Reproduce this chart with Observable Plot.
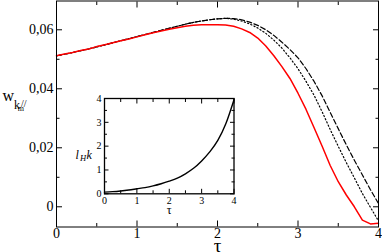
<!DOCTYPE html>
<html><head><meta charset="utf-8">
<script src="https://cdn.jsdelivr.net/npm/d3@7"></script>
<script src="https://cdn.jsdelivr.net/npm/@observablehq/plot@0.6"></script>
<style>
html,body{margin:0;padding:0;background:#fff;}
#wrap{position:relative;width:382px;height:252px;}
#wrap svg{position:absolute;left:0;top:0;}
</style>
</head><body><div id="wrap"></div>
<script>
// ---- data ----
const tau = [0,0.1,0.2,0.3,0.4,0.5,0.6,0.7,0.8,0.9,1.0,1.1,1.2,1.3,1.4,1.5,1.6,1.7,1.8,1.9,2.0,
             2.1,2.2,2.3,2.4,2.5,2.6,2.7,2.8,2.9,3.0,3.1,3.2,3.3,3.4,3.5,3.6,3.7,3.8,3.9,4.0];
const wRed = [0.0512,0.0518,0.0523,0.0530,0.0535,0.0543,0.0549,0.0556,0.0563,0.0569,0.0576,
              0.0583,0.0590,0.0596,0.0602,0.0607,0.0612,0.0615,0.0617,0.0617,0.0617,
              0.0616,0.0612,0.0603,0.0591,0.0572,0.0545,0.0512,0.0475,0.0435,0.0385,
              0.0330,0.0268,0.0205,0.0140,0.0085,0.0040,0.0000,-0.0045,-0.0058,-0.0056];
const wDashed = [0.0512,0.0517,0.0523,0.0529,0.0535,0.0542,0.0549,0.0556,0.0563,0.0570,0.0577,
                 0.0584,0.0591,0.0598,0.0605,0.0612,0.0619,0.0625,0.0630,0.0634,0.0637,
                 0.0639,0.0638,0.0634,0.0626,0.0615,0.0600,0.0581,0.0558,0.0533,0.0505,
                 0.0468,0.0425,0.0376,0.0320,0.0265,0.0210,0.0158,0.0108,0.0058,0.0011];
const wDotted = [0.0512,0.0517,0.0523,0.0529,0.0535,0.0542,0.0549,0.0556,0.0563,0.0570,0.0577,
                 0.0584,0.0591,0.0598,0.0605,0.0612,0.0619,0.0625,0.0630,0.0634,0.0637,
                 0.0639,0.0636,0.0630,0.0620,0.0606,0.0588,0.0565,0.0538,0.0505,0.0468,
                 0.0425,0.0378,0.0322,0.0262,0.0205,0.0150,0.0098,0.0045,-0.0002,-0.0048];
const xTicks = [0,1,2,3,4];
const xTickLabels = ["0","1","2","3","4"];
const xMinor = [0.5,1.5,2.5,3.5];
const yTicks = [0,0.02,0.04,0.06];
const yTickLabels = ["0","0,02","0,04","0,06"];
const yMinor = [0.01,0.03,0.05];

const insetTau = [0,0.25,0.5,0.75,1,1.25,1.5,1.75,2,2.25,2.5,2.75,3,3.25,3.5,3.75,4];
const insetLk  = [0.07,0.09,0.12,0.16,0.21,0.26,0.33,0.42,0.53,0.66,0.84,1.07,1.38,1.76,2.24,2.95,3.95];
const insetTicks = [0,1,2,3,4];
const insetTickLabels = ["0","1","2","3","4"];
const insetMinor = [0.5,1.5,2.5,3.5];

// ---- build tables ----
const main = tau.map((t,i)=>({t, red:wRed[i], dash:wDashed[i], dot:wDotted[i]}));
const inset = insetTau.map((t,i)=>({t, v:insetLk[i]}));
const serif = "'Liberation Serif', serif";
const blank = () => "";

const mainPlot = Plot.plot({
  width:382, height:252,
  marginLeft:56, marginRight:4, marginTop:0.5, marginBottom:25.5,
  x:{domain:[0,4]},
  y:{domain:[-0.00685,0.06976]},
  style:{fontFamily:serif, fontSize:"14px", background:"white", color:"black"},
  marks:[
    Plot.line(main,{x:"t",y:"dash",stroke:"black",strokeWidth:1.2,strokeDasharray:"5,2.5"}),
    Plot.line(main,{x:"t",y:"dot",stroke:"black",strokeWidth:1.2,strokeDasharray:"1.2,2.3"}),
    Plot.line(main,{x:"t",y:"red",stroke:"#ff0000",strokeWidth:1.5}),
    // ticks (inward)
    Plot.axisX(xTicks,{anchor:"bottom",tickSize:-6,tickFormat:blank,label:null}),
    Plot.axisX(xMinor,{anchor:"bottom",tickSize:-3.5,tickFormat:blank,label:null}),
    Plot.axisX(xTicks,{anchor:"top",tickSize:-6,tickFormat:blank,label:null}),
    Plot.axisX(xMinor,{anchor:"top",tickSize:-3.5,tickFormat:blank,label:null}),
    Plot.axisY(yTicks,{anchor:"left",tickSize:-6,tickFormat:blank,label:null}),
    Plot.axisY(yMinor,{anchor:"left",tickSize:-3.5,tickFormat:blank,label:null}),
    Plot.axisY(yTicks,{anchor:"right",tickSize:-6,tickFormat:blank,label:null}),
    Plot.axisY(yMinor,{anchor:"right",tickSize:-3.5,tickFormat:blank,label:null}),
    // labels
    Plot.axisX(xTicks,{anchor:"bottom",tickSize:0,tickPadding:1.5,fontSize:14,fontFamily:serif,fontVariant:"normal",tickFormat:(d,i)=>xTickLabels[i],label:null}),
    Plot.axisY(yTicks,{anchor:"left",tickSize:0,tickPadding:3,fontSize:14,fontFamily:serif,fontVariant:"normal",tickFormat:(d,i)=>yTickLabels[i],label:null}),
    Plot.frame({stroke:"black",strokeWidth:1}),
    Plot.text(["τ"],{frameAnchor:"bottom",lineAnchor:"top",dy:11,fontSize:19,fontFamily:serif}),
    Plot.text(["w"],{frameAnchor:"top-left",textAnchor:"start",lineAnchor:"bottom",dx:-54,dy:99.6,fontSize:16,fontFamily:serif}),
    Plot.text(["k"],{frameAnchor:"top-left",textAnchor:"start",lineAnchor:"bottom",dx:-42.5,dy:108,fontSize:12,fontFamily:serif}),
    Plot.text(["m"],{frameAnchor:"top-left",textAnchor:"start",lineAnchor:"bottom",dx:-38.7,dy:110.1,fontSize:8,fontFamily:serif}),
    Plot.text(["//"],{frameAnchor:"top-left",textAnchor:"start",lineAnchor:"bottom",dx:-35.5,dy:105.9,fontSize:10,fontFamily:serif})
  ]
});

const insetPlot = Plot.plot({
  width:382, height:252,
  marginLeft:104, marginRight:148.5, marginTop:98, marginBottom:58.7,
  x:{domain:[0,4]},
  y:{domain:[0,4]},
  style:{fontFamily:serif, fontSize:"10px", background:"transparent", color:"black"},
  marks:[
    Plot.frame({fill:"white",stroke:"none"}),
    Plot.line(inset,{x:"t",y:"v",stroke:"black",strokeWidth:1.4,curve:"monotone-x"}),
    Plot.axisX(insetTicks,{anchor:"bottom",tickSize:-4.5,tickFormat:blank,label:null}),
    Plot.axisX(insetMinor,{anchor:"bottom",tickSize:-3,tickFormat:blank,label:null}),
    Plot.axisX(insetTicks,{anchor:"top",tickSize:-4.5,tickFormat:blank,label:null}),
    Plot.axisX(insetMinor,{anchor:"top",tickSize:-3,tickFormat:blank,label:null}),
    Plot.axisY(insetTicks,{anchor:"left",tickSize:-4.5,tickFormat:blank,label:null}),
    Plot.axisY(insetMinor,{anchor:"left",tickSize:-3,tickFormat:blank,label:null}),
    Plot.axisY(insetTicks,{anchor:"right",tickSize:-4.5,tickFormat:blank,label:null}),
    Plot.axisY(insetMinor,{anchor:"right",tickSize:-3,tickFormat:blank,label:null}),
    Plot.axisX(insetTicks,{anchor:"bottom",tickSize:0,tickPadding:3.5,fontSize:10,fontFamily:serif,fontVariant:"normal",tickFormat:(d,i)=>insetTickLabels[i],label:null}),
    Plot.axisY(insetTicks,{anchor:"left",tickSize:0,tickPadding:3,fontSize:10,fontFamily:serif,fontVariant:"normal",tickFormat:(d,i)=>insetTickLabels[i],label:null}),
    Plot.frame({stroke:"black",strokeWidth:1.3}),
    Plot.text(["τ"],{frameAnchor:"bottom",lineAnchor:"top",dy:12,fontSize:12,fontFamily:serif}),
    Plot.text(["l"],{frameAnchor:"top-left",textAnchor:"start",lineAnchor:"bottom",dx:-29,dy:60.8,fontSize:12,fontStyle:"italic",fontFamily:serif}),
    Plot.text(["H"],{frameAnchor:"top-left",textAnchor:"start",lineAnchor:"bottom",dx:-24.5,dy:62,fontSize:8.5,fontStyle:"italic",fontFamily:serif}),
    Plot.text(["k"],{frameAnchor:"top-left",textAnchor:"start",lineAnchor:"bottom",dx:-18,dy:60.8,fontSize:12,fontStyle:"italic",fontFamily:serif})
  ]
});

const wrap = document.getElementById("wrap");
wrap.appendChild(mainPlot);
wrap.appendChild(insetPlot);
d3.selectAll("#wrap svg text").style("font-family", "'Liberation Serif', serif");
</script>
</body></html>
